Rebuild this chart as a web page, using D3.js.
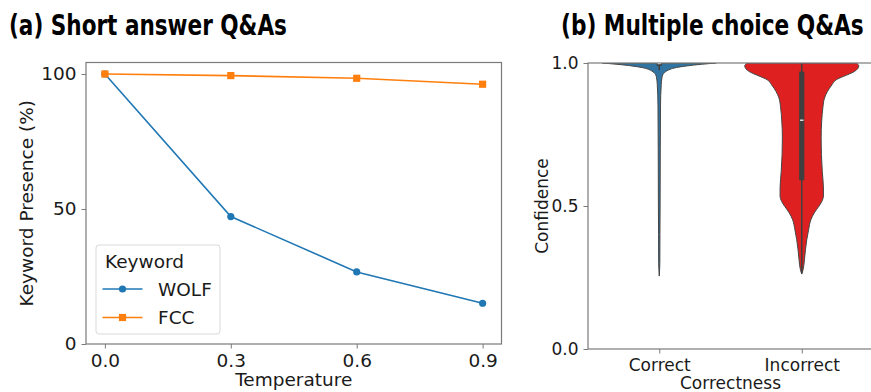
<!DOCTYPE html>
<html><head><meta charset="utf-8">
<script src="https://cdn.jsdelivr.net/npm/d3@7"></script>
<style>body{margin:0;background:#fff}svg{display:block}text{font-family:"DejaVu Sans",sans-serif;fill:#1a1a1a}</style>
</head><body><svg id="c" width="871" height="392"></svg>
<script>
// ---- data ----
const temperatures = [0.0, 0.3, 0.6, 0.9];
const tempTickLabels = ["0.0", "0.3", "0.6", "0.9"];
const wolfValues = [100, 47.2, 26.7, 15.1];
const fccValues = [100, 99.4, 98.4, 96.2];
const presenceTicks = [0, 50, 100];
const seriesNames = ["WOLF", "FCC"];

const correctnessCats = ["Correct", "Incorrect"];
const confidenceTicks = [0.0, 0.5, 1.0];
// violin profiles: [confidence, relative density]
const correctDensity = [[1.0,1.0],[0.9955,0.74],[0.9897,0.48],[0.984,0.3],[0.978,0.19],[0.972,0.13],[0.966,0.09],[0.96,0.065],[0.948,0.047],[0.925,0.035],[0.85,0.022],[0.7,0.018],[0.5,0.015],[0.4,0.012],[0.3,0.01],[0.255,0]];
const incorrectDensity = [[1.0,0.96],[0.99,1.0],[0.98,0.98],[0.97,0.92],[0.962,0.84],[0.953,0.73],[0.942,0.61],[0.924,0.53],[0.9,0.45],[0.878,0.40],[0.843,0.37],[0.797,0.35],[0.738,0.34],[0.68,0.345],[0.621,0.36],[0.563,0.38],[0.535,0.38],[0.515,0.35],[0.499,0.30],[0.476,0.22],[0.452,0.16],[0.417,0.12],[0.382,0.088],[0.347,0.065],[0.312,0.047],[0.277,0.023],[0.262,0]];
const correctBox = {q1:0.99, median:0.998, q3:1.0, lo:0.975, hi:1.0};
const incorrectBox = {q1:0.59, median:0.80, q3:0.97, lo:0.265, hi:1.0};

const svg = d3.select("#c");
const spine = "#7a7a7a";

// ---- titles (scaled horizontally to the reference width) ----
function title(txt, x0, target){
  const t = svg.append("text").attr("x",0).attr("y",0).attr("font-family","'Noto Sans CJK JP'").attr("font-weight","bold")
    .attr("font-size",28.5).style("fill","#000").text(txt);
  const w = t.node().getComputedTextLength();
  t.attr("transform",`translate(${x0},35) scale(${target/w},1)`);
}
title("(a) Short answer Q&As", 9, 278);
title("(b) Multiple choice Q&As", 561, 303);

// ---- left chart ----
const L = {x0:86, x1:501.5, y0:62.5, y1:344};
const fsL = 18.5;
const x = d3.scaleLinear().domain([-0.045, 0.945]).range([L.x0, L.x1]);
const y = d3.scaleLinear().domain([0, 104.25]).range([L.y1, L.y0]);
const gL = svg.append("g");

const xAx = gL.append("g").attr("transform",`translate(0,${L.y1})`)
  .call(d3.axisBottom(x).tickValues(temperatures).tickFormat((d,i)=>tempTickLabels[i]).tickSize(4.5).tickPadding(5));
const yAx = gL.append("g").attr("transform",`translate(${L.x0},0)`)
  .call(d3.axisLeft(y).tickValues(presenceTicks).tickSize(4.5).tickPadding(5));
[xAx,yAx].forEach(a=>{a.select(".domain").remove();a.selectAll("line").attr("stroke",spine);a.selectAll("text").attr("font-size",fsL).attr("font-family","DejaVu Sans").style("fill","#1a1a1a");});
gL.append("rect").attr("x",L.x0).attr("y",L.y0).attr("width",L.x1-L.x0).attr("height",L.y1-L.y0).attr("fill","none").attr("stroke",spine).attr("stroke-width",1.2);

gL.append("text").attr("x",(L.x0+L.x1)/2).attr("y",386).attr("text-anchor","middle").attr("font-size",fsL).text("Temperature");
gL.append("text").attr("transform",`translate(33,${(L.y0+L.y1)/2}) rotate(-90)`).attr("text-anchor","middle").attr("font-size",fsL).text("Keyword Presence (%)");

const line = d3.line().x((d,i)=>x(temperatures[i])).y(d=>y(d));
const series = [{name:seriesNames[0],vals:wolfValues,color:"#1f77b4",marker:"circle"},{name:seriesNames[1],vals:fccValues,color:"#ff7f0e",marker:"square"}];
series.forEach(s=>{
  gL.append("path").attr("d",line(s.vals)).attr("fill","none").attr("stroke",s.color).attr("stroke-width",1.6);
  s.vals.forEach((v,i)=>{
    if(s.marker==="circle") gL.append("circle").attr("cx",x(temperatures[i])).attr("cy",y(v)).attr("r",3.6).attr("fill",s.color);
    else gL.append("rect").attr("x",x(temperatures[i])-3.6).attr("y",y(v)-3.6).attr("width",7.2).attr("height",7.2).attr("fill",s.color);
  });
});
// legend
const lg = gL.append("g");
lg.append("rect").attr("x",96).attr("y",245).attr("width",124).attr("height",89).attr("rx",3).attr("fill","#fff").attr("fill-opacity",0.85).attr("stroke","#d9d9d9");
lg.append("text").attr("x",105).attr("y",268).attr("font-size",fsL).text("Keyword");
series.forEach((s,i)=>{
  const ly = 289 + i*28.5;
  lg.append("line").attr("x1",102.5).attr("x2",142.5).attr("y1",ly).attr("y2",ly).attr("stroke",s.color).attr("stroke-width",1.6);
  if(s.marker==="circle") lg.append("circle").attr("cx",122.5).attr("cy",ly).attr("r",3.6).attr("fill",s.color);
  else lg.append("rect").attr("x",122.5-3.6).attr("y",ly-3.6).attr("width",7.2).attr("height",7.2).attr("fill",s.color);
  lg.append("text").attr("x",158).attr("y",ly+6.5).attr("font-size",fsL).text(s.name);
});

// ---- right chart ----
const R = {x0:588, x1:873, y0:63, y1:349};
const fsR = 17;
const xc = d3.scalePoint().domain(correctnessCats).range([R.x0,R.x1]).padding(0.5);
const yc = d3.scaleLinear().domain([0,1]).range([R.y1,R.y0]);
const step = xc.step();
const wScale = d3.scaleLinear().domain([0,1]).range([0, step*0.4]);
const gR = svg.append("g");
svg.append("clipPath").attr("id","rc").append("rect").attr("x",R.x0).attr("y",R.y0).attr("width",R.x1-R.x0).attr("height",R.y1-R.y0);

const violins = [{cat:correctnessCats[0],dens:correctDensity,box:correctBox,color:"#3274a1"},{cat:correctnessCats[1],dens:incorrectDensity,box:incorrectBox,color:"#df2020"}];
const vg = gR.append("g").attr("clip-path","url(#rc)");
violins.forEach(v=>{
  const cx = xc(v.cat);
  const area = d3.area().y(d=>yc(d[0])).x0(d=>cx-wScale(d[1])).x1(d=>cx+wScale(d[1])).curve(d3.curveMonotoneY);
  const sorted = v.dens.slice().sort((a,b)=>a[0]-b[0]);
  vg.append("path").attr("d",area(sorted)).attr("fill",v.color).attr("stroke","#454545").attr("stroke-width",1);
  vg.append("line").attr("x1",cx).attr("x2",cx).attr("y1",yc(v.box.lo)).attr("y2",yc(v.box.hi)).attr("stroke","#3f3f3f").attr("stroke-width",1.5);
  vg.append("rect").attr("x",cx-2.6).attr("y",yc(v.box.q3)).attr("width",5.2).attr("height",Math.max(1.5,yc(v.box.q1)-yc(v.box.q3))).attr("fill","#3f3f3f");
  vg.append("line").attr("x1",cx-1.8).attr("x2",cx+1.8).attr("y1",yc(v.box.median)).attr("y2",yc(v.box.median)).attr("stroke","#fff").attr("stroke-width",1.2);
});

const xcAx = gR.append("g").attr("transform",`translate(0,${R.y1})`).call(d3.axisBottom(xc).tickSize(4.5).tickPadding(5));
const ycAx = gR.append("g").attr("transform",`translate(${R.x0},0)`).call(d3.axisLeft(yc).tickValues(confidenceTicks).tickFormat(d3.format(".1f")).tickSize(4.5).tickPadding(5));
[xcAx,ycAx].forEach(a=>{a.select(".domain").remove();a.selectAll("line").attr("stroke",spine);a.selectAll("text").attr("font-size",fsR).attr("font-family","DejaVu Sans").style("fill","#1a1a1a");});
gR.append("rect").attr("x",R.x0).attr("y",R.y0).attr("width",R.x1-R.x0).attr("height",R.y1-R.y0).attr("fill","none").attr("stroke",spine).attr("stroke-width",1.2);
gR.append("text").attr("x",(R.x0+R.x1)/2).attr("y",388.5).attr("text-anchor","middle").attr("font-size",fsR).text("Correctness");
gR.append("text").attr("transform",`translate(548,${(R.y0+R.y1)/2}) rotate(-90)`).attr("text-anchor","middle").attr("font-size",fsR).text("Confidence");
</script></body></html>
